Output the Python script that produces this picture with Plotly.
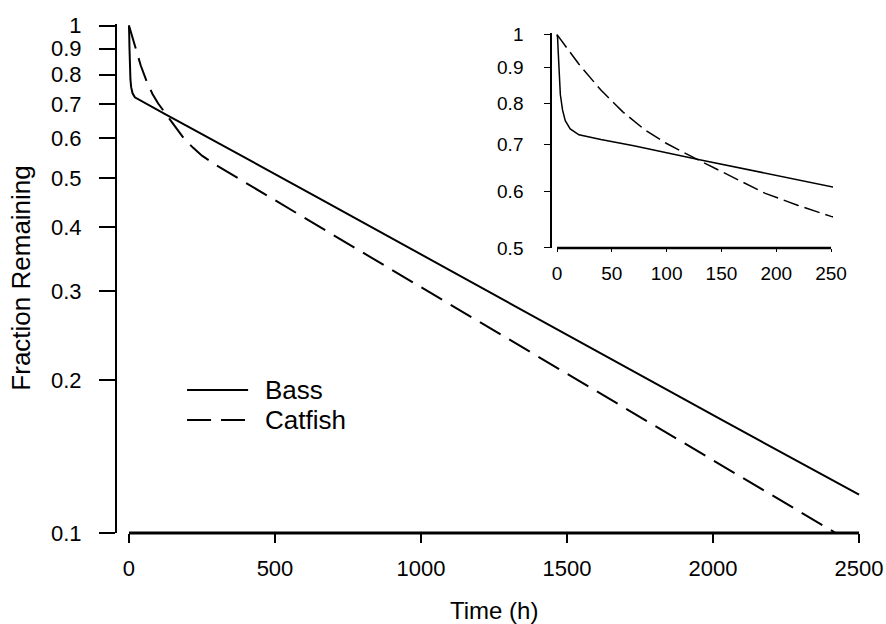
import plotly.graph_objects as go

# values (time in hours, fraction remaining)
bass_t = [0, 0.5, 1, 1.8, 3, 5, 7.5, 12, 20, 40, 70, 130, 190, 250, 650, 1000, 1550, 2030, 2500]
bass_v = [1.0, 0.99, 0.95, 0.90, 0.823, 0.783, 0.756, 0.736, 0.722, 0.711, 0.697, 0.666, 0.638, 0.611,
          0.457, 0.354, 0.237, 0.167, 0.119]

catfish_t = [0, 10, 20, 40, 60, 80, 100, 130, 160, 190, 220, 250, 300, 590, 1000, 1500, 1955, 2420]
catfish_v = [1.0, 0.953, 0.908, 0.835, 0.778, 0.734, 0.702, 0.664, 0.629, 0.597, 0.574, 0.554, 0.530,
             0.421, 0.305, 0.206, 0.144, 0.1]

main_yticks = [0.1, 0.2, 0.3, 0.4, 0.5, 0.6, 0.7, 0.8, 0.9, 1]
main_xticks = [0, 500, 1000, 1500, 2000, 2500]
inset_yticks = [0.5, 0.6, 0.7, 0.8, 0.9, 1]
inset_xticks = [0, 50, 100, 150, 200, 250]

FONT = "Liberation Sans, Arial, sans-serif"

fig = go.Figure()

# main panel
fig.add_trace(go.Scatter(x=bass_t, y=bass_v, mode="lines", name="Bass",
                         line=dict(color="black", width=2)))
fig.add_trace(go.Scatter(x=catfish_t, y=catfish_v, mode="lines", name="Catfish",
                         line=dict(color="black", width=2, dash="24px,10px")))

# inset panel
fig.add_trace(go.Scatter(x=bass_t, y=bass_v, mode="lines", xaxis="x2", yaxis="y2",
                         line=dict(color="black", width=1.5), showlegend=False))
fig.add_trace(go.Scatter(x=catfish_t, y=catfish_v, mode="lines", xaxis="x2", yaxis="y2",
                         line=dict(color="black", width=1.5, dash="16px,6px"), showlegend=False))

fig.update_layout(
    width=886, height=624,
    margin=dict(l=117, r=24, t=24, b=91, autoexpand=False),
    paper_bgcolor="white", plot_bgcolor="white",
    showlegend=False,
    font=dict(family=FONT, color="black"),
    xaxis=dict(range=[-41, 2510], tickvals=main_xticks, ticks="outside", ticklen=9, tickwidth=1.5,
               tickcolor="black", showline=False, showgrid=False, zeroline=False, automargin=False,
               tickfont=dict(size=22), ticklabelstandoff=7),
    yaxis=dict(type="log", range=[-1, 0.003], tickvals=main_yticks, ticktext=[str(v) for v in main_yticks],
               ticks="outside", ticklen=16, tickwidth=1.5, tickcolor="black", showline=True,
               linecolor="black", linewidth=2, showgrid=False, zeroline=False, automargin=False,
               tickfont=dict(size=22), ticklabelstandoff=13),
    xaxis2=dict(domain=[0.5839, 0.9611], anchor="y2", range=[-4.6, 251.8], tickvals=inset_xticks,
                ticks="outside", ticklen=3, tickwidth=1, tickcolor="black", showline=False,
                showgrid=False, zeroline=False, automargin=False, tickfont=dict(size=19),
                ticklabelstandoff=5),
    yaxis2=dict(domain=[0.56, 0.982], anchor="x2", type="log", range=[-0.30103, 0.002],
                tickvals=inset_yticks, ticktext=[str(v) for v in inset_yticks], ticks="outside",
                ticklen=6, tickwidth=1, tickcolor="black", showline=True, linecolor="black",
                linewidth=1.5, showgrid=False, zeroline=False, automargin=False,
                tickfont=dict(size=19), ticklabelstandoff=17),
)

# R-style bottom axis lines running from first to last tick
fig.add_shape(type="line", xref="x", yref="paper", x0=main_xticks[0], x1=main_xticks[-1], y0=0, y1=0,
              line=dict(color="black", width=3))
fig.add_shape(type="line", xref="x2", yref="y2 domain", x0=inset_xticks[0], x1=inset_xticks[-1], y0=0, y1=0,
              line=dict(color="black", width=2.5))

# legend drawn by hand
fig.add_shape(type="line", xref="paper", yref="paper", x0=0.094, x1=0.176, y0=0.281, y1=0.281,
              line=dict(color="black", width=2))
fig.add_shape(type="line", xref="paper", yref="paper", x0=0.094, x1=0.176, y0=0.222, y1=0.222,
              line=dict(color="black", width=2, dash="24px,10px"))
fig.add_annotation(text="Bass", xref="paper", yref="paper", x=0.196, y=0.281, xanchor="left",
                   yanchor="middle", showarrow=False, font=dict(size=26))
fig.add_annotation(text="Catfish", xref="paper", yref="paper", x=0.196, y=0.222, xanchor="left",
                   yanchor="middle", showarrow=False, font=dict(size=26))

# axis titles
fig.add_annotation(text="Fraction Remaining", xref="paper", yref="paper", x=-0.13, y=0.5,
                   xanchor="center", yanchor="middle", textangle=-90, showarrow=False, font=dict(size=26))
fig.add_annotation(text="Time (h)", xref="x", yref="paper", x=1250, y=-0.153, xanchor="center",
                   yanchor="middle", showarrow=False, font=dict(size=24))

# drop the default 8px body margin so the 886x624 figure fills the window exactly
fig.write_html("out.html", config={"displayModeBar": False},
               post_script="document.body.style.margin='0';")
